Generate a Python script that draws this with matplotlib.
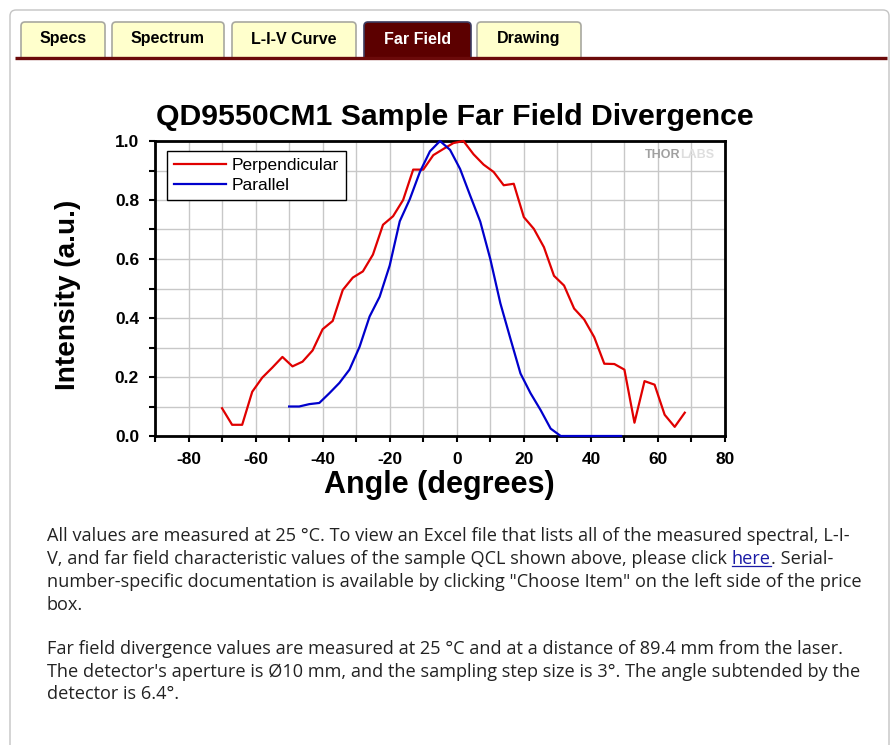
import matplotlib
matplotlib.use("Agg")
import matplotlib.pyplot as plt
from matplotlib.patches import FancyBboxPatch, Rectangle
from matplotlib.ticker import MultipleLocator, FormatStrFormatter

plt.rcParams['axes.unicode_minus'] = False

W, H = 895, 745

# far field data
perp_angle = [-70, -67, -64, -61, -58, -55, -52, -49, -46, -43, -40, -37, -34, -31,
              -28, -25, -22, -19, -16, -13, -10, -7, -4, -1, 2, 5, 8, 11, 14, 17,
              20, 23, 26, 29, 32, 35, 38, 41, 44, 47, 50, 53, 56, 59, 62, 65, 68]
perp_int = [0.094, 0.038, 0.038, 0.150, 0.198, 0.232, 0.268, 0.236, 0.252, 0.290,
            0.362, 0.390, 0.495, 0.537, 0.558, 0.615, 0.716, 0.745, 0.800, 0.903,
            0.903, 0.952, 0.973, 0.993, 1.000, 0.955, 0.920, 0.895, 0.850, 0.855,
            0.742, 0.702, 0.640, 0.543, 0.510, 0.432, 0.395, 0.335, 0.245, 0.244,
            0.225, 0.045, 0.186, 0.174, 0.072, 0.031, 0.079]

par_angle = [-50, -47, -44, -41, -38, -35, -32, -29, -26, -23, -20, -17, -14, -11,
             -8, -5, -2, 1, 4, 7, 10, 13, 16, 19, 22, 25, 28, 31, 34, 37, 40, 43,
             46, 49]
par_int = [0.100, 0.100, 0.108, 0.112, 0.145, 0.180, 0.225, 0.302, 0.405, 0.472,
           0.578, 0.728, 0.803, 0.895, 0.965, 1.000, 0.970, 0.905, 0.815, 0.727,
           0.600, 0.450, 0.330, 0.212, 0.145, 0.088, 0.025, 0.0, 0.0, 0.0, 0.0,
           0.0, 0.0, 0.0]

tab_names = ["Specs", "Spectrum", "L-I-V Curve", "Far Field", "Drawing"]
tab_edges = [(21, 105), (112, 224), (232, 356), (364, 471), (477, 581)]
active_tab = "Far Field"

title = "QD9550CM1 Sample Far Field Divergence"

para1 = ["All values are measured at 25 °C. To view an Excel file that lists all of the measured spectral, L-I-",
         "V, and far field characteristic values of the sample QCL shown above, please click ",
         "number-specific documentation is available by clicking \"Choose Item\" on the left side of the price",
         "box."]
link_text = "here"
after_link = ". Serial-"
para2 = ["Far field divergence values are measured at 25 °C and at a distance of 89.4 mm from the laser.",
         "The detector's aperture is Ø10 mm, and the sampling step size is 3°. The angle subtended by the",
         "detector is 6.4°."]

fig = plt.figure(figsize=(W / 100, H / 100), dpi=100)
fig.patch.set_facecolor("white")

# page layer in pixel coordinates
page = fig.add_axes([0, 0, 1, 1])
page.set_xlim(0, W)
page.set_ylim(H, 0)
page.axis("off")

page.add_patch(FancyBboxPatch((10, 10), 879, 780, boxstyle="round,pad=0,rounding_size=6",
                              fc="white", ec="#c4c4c4", lw=1, zorder=0))

for name, (l, r) in zip(tab_names, tab_edges):
    on = name == active_tab
    page.add_patch(FancyBboxPatch((l, 22), r - l, 45, boxstyle="round,pad=0,rounding_size=4",
                                  fc="#5c0000" if on else "#ffffcc",
                                  ec="#3c3c60" if on else "#a8a8a0", lw=1.2, zorder=1))
    page.text((l + r) / 2, 39, name, ha="center", va="center", fontsize=11.5,
              fontweight="bold", family="Liberation Sans",
              color="white" if on else "black", zorder=4)
page.add_patch(Rectangle((11, 59), 877, 40, fc="white", ec="none", zorder=2))
page.plot([15, 887], [57.5, 57.5], color="#6b0a0a", lw=2.4, zorder=3, solid_capstyle="butt")

# chart text
page.text(455, 117, title, ha="center", va="center", fontsize=21.8, fontweight="bold",
          family="Liberation Sans")
page.text(68, 295, "Intensity (a.u.)", ha="center", va="center", rotation=90,
          fontsize=20.2, fontweight="bold", family="Liberation Sans")
page.text(439, 485, "Angle (degrees)", ha="center", va="center", fontsize=22,
          fontweight="bold", family="Liberation Sans")

# paragraphs
renderer = fig.canvas.get_renderer()
pfont = dict(fontsize=13.05, family="Open Sans", color="#222222", va="baseline")


def text_width(s):
    t = page.text(0, 0, s, **pfont)
    w = t.get_window_extent(renderer).width
    t.remove()
    return w


x0 = 47
ys1 = [541, 564, 587, 610]
for i, line in enumerate(para1):
    page.text(x0, ys1[i], line, **pfont)
    if i == 1:
        full = text_width(line + link_text)
        hx = x0 + full - text_width(link_text)
        lk = dict(pfont)
        lk["color"] = "#1a1aa6"
        page.text(hx, ys1[i], link_text, **lk)
        page.plot([hx, x0 + full], [ys1[i] + 2, ys1[i] + 2], color="#1a1aa6", lw=0.9)
        page.text(x0 + full, ys1[i], after_link, **pfont)

ys2 = [654, 677, 699]
for i, line in enumerate(para2):
    page.text(x0, ys2[i], line, **pfont)

# the chart
ax = fig.add_axes([155 / W, 1 - 436 / H, 570 / W, 295 / H])
ax.plot(perp_angle, perp_int, color="#e00000", lw=1.6, label="Perpendicular", zorder=3,
        clip_on=False)
ax.plot(par_angle, par_int, color="#0000cc", lw=1.6, label="Parallel", zorder=3,
        clip_on=False)
ax.set_xlim(-90, 80)
ax.set_ylim(0, 1.0)
ax.xaxis.set_major_locator(MultipleLocator(20))
ax.xaxis.set_minor_locator(MultipleLocator(10))
ax.yaxis.set_major_locator(MultipleLocator(0.2))
ax.yaxis.set_minor_locator(MultipleLocator(0.1))
ax.yaxis.set_major_formatter(FormatStrFormatter("%.1f"))
ax.grid(True, which="both", color="#c8c8c8", lw=1, zorder=0)
ax.set_axisbelow(True)
for sp in ax.spines.values():
    sp.set_linewidth(2)
    sp.set_zorder(2.5)
ax.tick_params(which="both", direction="out", length=4.5, width=1.5, top=False, right=False)
ax.tick_params(which="major", pad=7, labelsize=12.5)
for lab in ax.get_xticklabels() + ax.get_yticklabels():
    lab.set_fontweight("bold")
    lab.set_family("Liberation Sans")

leg = ax.legend(loc="upper left", bbox_to_anchor=(0.021, 0.966), borderaxespad=0,
                fancybox=False, edgecolor="black", framealpha=1, handlelength=3.0,
                handletextpad=0.35, labelspacing=0.3, borderpad=0.4,
                prop={"family": "Liberation Sans", "size": 12.5})
leg.get_frame().set_linewidth(1.0)
leg.set_zorder(5)

ax.text(0.921, 0.953, "THOR", transform=ax.transAxes, ha="right", va="center",
        fontsize=9, fontweight="bold", color="#a0a0a0", family="Liberation Sans")
ax.text(0.921, 0.953, "LABS", transform=ax.transAxes, ha="left", va="center",
        fontsize=9, fontweight="bold", color="#dedede", family="Liberation Sans")

fig.savefig("out.png", dpi=100, facecolor="white")
